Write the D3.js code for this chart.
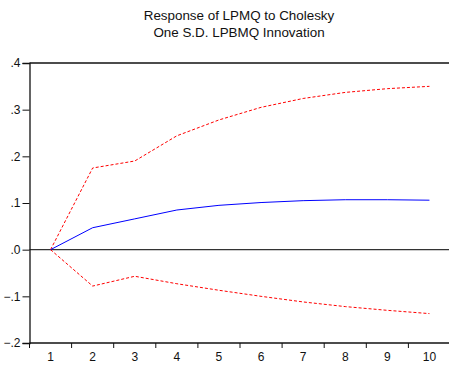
<!DOCTYPE html>
<html lang="en">
<head>
<meta charset="UTF-8">
<title>Response of LPMQ to Cholesky</title>
<script src="https://d3js.org/d3.v7.min.js"></script>
<style>
  body { margin: 0; background: #fff; }
  svg { display: block; font-family: "Liberation Sans", Arial, sans-serif; }
</style>
</head>
<body>
<svg width="449" height="366"></svg>
<script>
// periods and series
var periods = [1, 2, 3, 4, 5, 6, 7, 8, 9, 10];
var response = [0, 0.047, 0.066, 0.085, 0.095, 0.101, 0.105, 0.107, 0.107, 0.106];
var upper = [0, 0.175, 0.19, 0.244, 0.278, 0.305, 0.324, 0.337, 0.345, 0.350];
var lower = [0, -0.078, -0.057, -0.073, -0.087, -0.100, -0.112, -0.122, -0.130, -0.137];
var yTicks = [-0.2, -0.1, 0, 0.1, 0.2, 0.3, 0.4];
var titleLines = ["Response of LPMQ to Cholesky", "One S.D. LPBMQ Innovation"];

var plotLeft = 29.5, plotTop = 63, plotBottom = 343, plotRight = 450.5;

var svg = d3.select("svg");

var x = d3.scaleBand().domain(periods).range([plotLeft, plotRight]);
var y = d3.scaleLinear().domain([-0.2, 0.4]).range([plotBottom, plotTop]);

// title
svg.append("g").selectAll("text")
    .data(titleLines)
  .enter().append("text")
    .attr("x", 239)
    .attr("y", (d, i) => 20 + i * 17)
    .attr("text-anchor", "middle")
    .attr("font-size", 13.4)
    .attr("fill", "#111")
    .text(d => d);

// zero line
svg.append("line")
    .attr("x1", plotLeft).attr("x2", 449)
    .attr("y1", y(0)).attr("y2", y(0))
    .attr("stroke", "#333").attr("stroke-width", 1.3);

// frame top
svg.append("line")
    .attr("x1", plotLeft).attr("x2", 449)
    .attr("y1", plotTop).attr("y2", plotTop)
    .attr("stroke", "#111").attr("stroke-width", 1.3);

var yAxis = svg.append("g")
    .attr("transform", "translate(" + plotLeft + ",0)")
    .call(d3.axisLeft(y).tickValues(yTicks).tickSize(7).tickPadding(2)
        .tickFormat(d => d3.format(".1f")(d).replace("0.", ".")));
yAxis.select(".domain").attr("stroke", "#111").attr("stroke-width", 1.3);
yAxis.selectAll(".tick line").attr("stroke", "#111");
yAxis.selectAll(".tick text").attr("font-size", 12).attr("fill", "#111")
    .attr("font-family", "Liberation Sans, Arial, sans-serif");

var xAxis = svg.append("g")
    .attr("transform", "translate(0," + plotBottom + ")")
    .call(d3.axisBottom(x).tickSize(0).tickPadding(9));
xAxis.select(".domain").remove();
xAxis.selectAll(".tick text").attr("font-size", 12).attr("fill", "#111")
    .attr("font-family", "Liberation Sans, Arial, sans-serif");
svg.append("line")
    .attr("x1", plotLeft).attr("x2", 449)
    .attr("y1", plotBottom).attr("y2", plotBottom)
    .attr("stroke", "#111").attr("stroke-width", 1.3);
// x tick marks at band edges
svg.append("g").selectAll("line")
    .data(periods)
  .enter().append("line")
    .attr("x1", d => x(d)).attr("x2", d => x(d))
    .attr("y1", plotBottom).attr("y2", plotBottom + 5)
    .attr("stroke", "#111");

var line = d3.line()
    .x((d, i) => x(periods[i]) + x.bandwidth() / 2)
    .y(d => y(d));

svg.append("path").datum(upper)
    .attr("d", line).attr("fill", "none")
    .attr("stroke", "#ff0000").attr("stroke-width", 1)
    .attr("stroke-dasharray", "3,2");
svg.append("path").datum(lower)
    .attr("d", line).attr("fill", "none")
    .attr("stroke", "#ff0000").attr("stroke-width", 1)
    .attr("stroke-dasharray", "3,2");
svg.append("path").datum(response)
    .attr("d", line).attr("fill", "none")
    .attr("stroke", "#0000ff").attr("stroke-width", 1);
</script>
</body>
</html>
